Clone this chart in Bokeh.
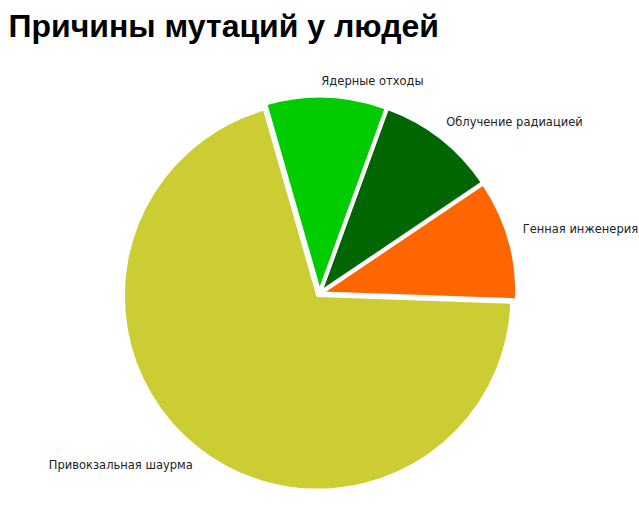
import numpy as np
from bokeh.plotting import figure
from bokeh.models import Range1d, Label, ColumnDataSource
from bokeh.embed import file_html
from bokeh.resources import INLINE
from bokeh.core.properties import value

title = "Причины мутаций у людей"
categories = ["Генная инженерия", "Облучение радиацией", "Ядерные отходы", "Привокзальная шаурма"]
values = [10, 10, 10, 70]
colors = ["#FF6600", "#006600", "#00CC00", "#CCCC33"]

W, H = 639, 516
p = figure(width=W, height=H, output_backend="svg", toolbar_location=None,
           x_range=Range1d(0, W), y_range=Range1d(0, H), min_border=0)
p.axis.visible = False
p.grid.visible = False
p.outline_line_color = None
p.background_fill_color = "white"

cx, cy = 319, H - 293
R = 194
explode = 3
start_deg = -2.0
vals = np.array(values, dtype=float)
fr = vals / vals.sum()
ends = start_deg + np.cumsum(fr) * 360
starts = ends - fr * 360
mids = (starts + ends) / 2
mr = np.radians(mids)
xs = cx + explode * np.cos(mr)
ys = cy + explode * np.sin(mr)

src = ColumnDataSource(dict(x=xs, y=ys, s=np.radians(starts), e=np.radians(ends), c=colors))
p.wedge(x="x", y="y", radius=R, start_angle="s", end_angle="e", fill_color="c",
        line_color="white", line_width=2.5, source=src)

Rl = 213
la = np.radians(mids + 1.5)
lx = cx + Rl * np.cos(la)
ly = cy + Rl * np.sin(la)
aligns = ["left" if np.cos(a) >= 0 else "right" for a in la]
lsrc = ColumnDataSource(dict(x=lx, y=ly, t=categories, a=aligns))
p.text(x="x", y="y", text="t", text_align="a", text_baseline="middle",
       text_font=value("DejaVu Sans"), text_font_size="11.5px", text_color="#222222", source=lsrc)

p.add_layout(Label(x=8, y=H - 25, text=title, text_font="Liberation Sans", text_font_style="bold",
                   text_font_size="32px", text_baseline="middle", text_color="black"))

open("out.html", "w").write(file_html(p, INLINE))
